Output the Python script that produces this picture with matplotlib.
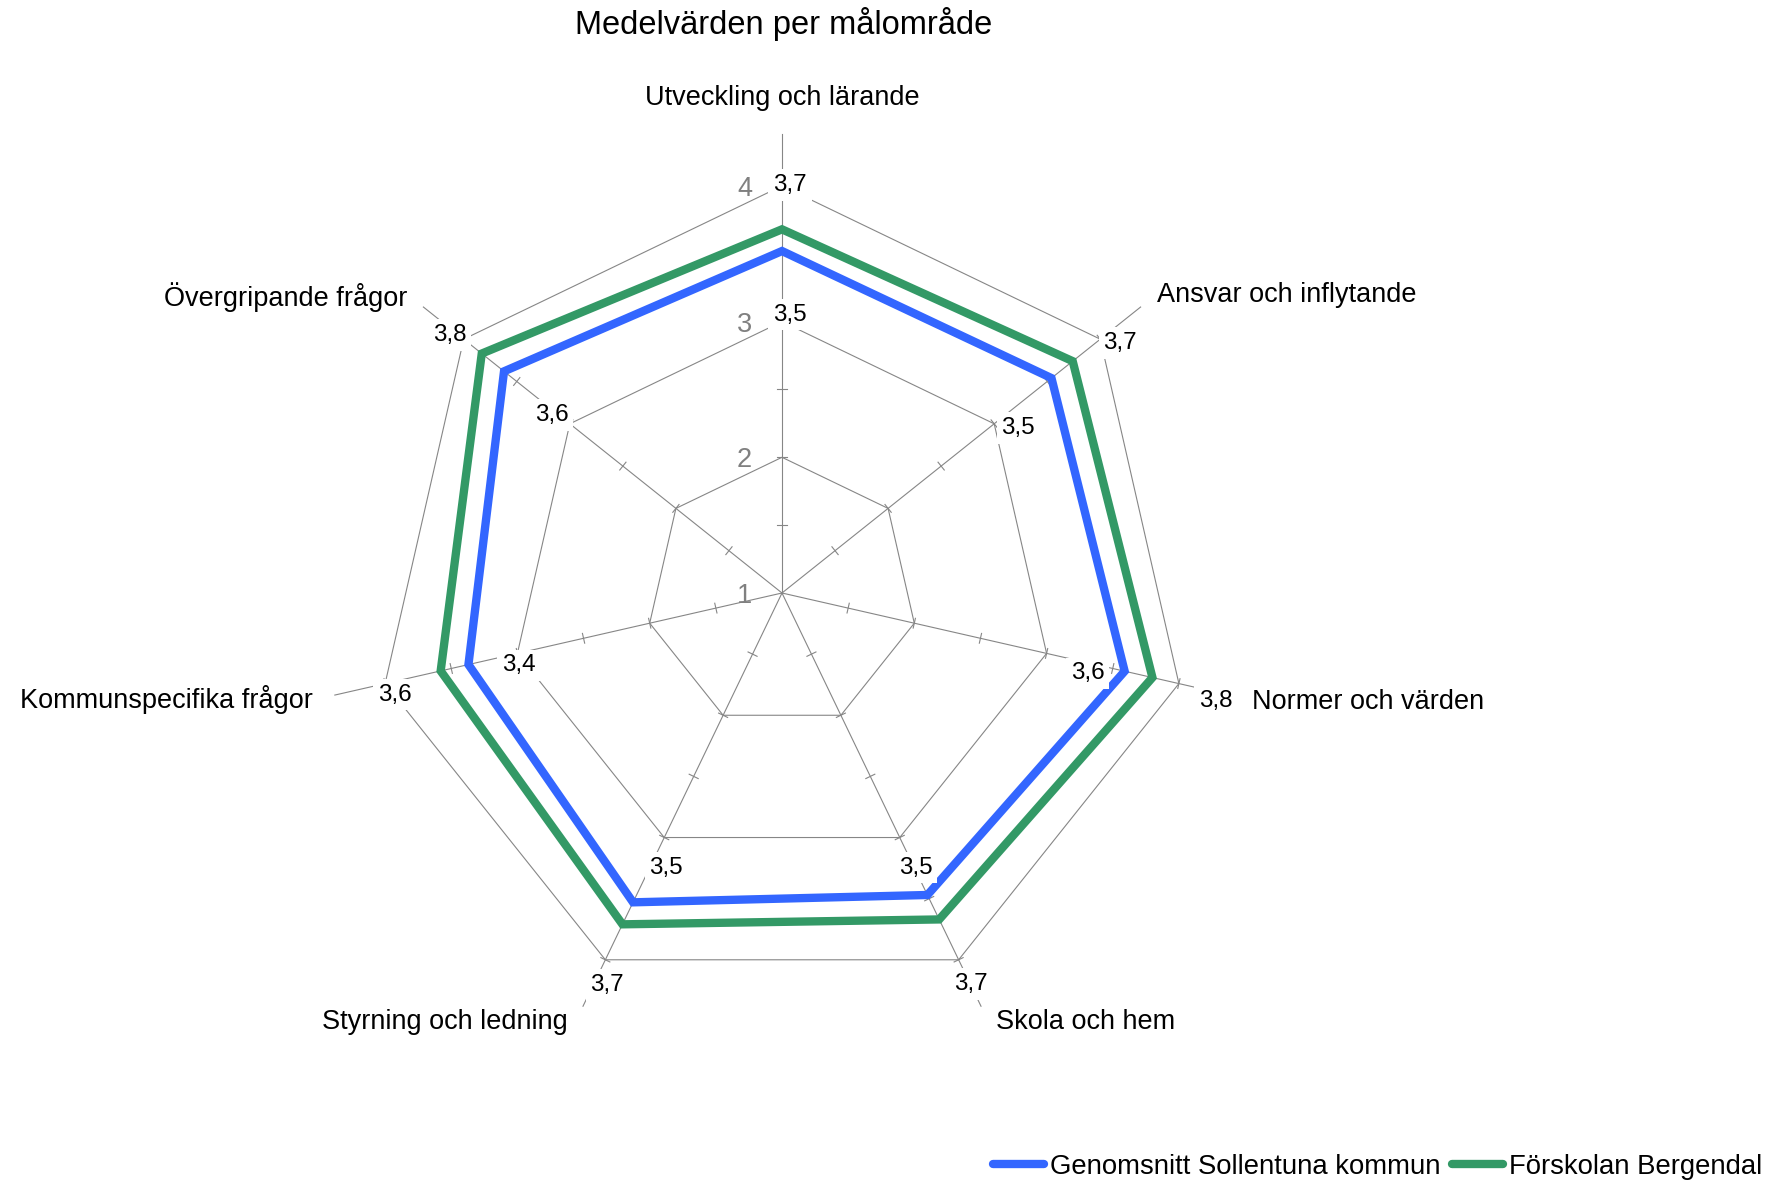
import numpy as np
import matplotlib
matplotlib.use("Agg")
import matplotlib.pyplot as plt
from matplotlib.patches import Polygon
from matplotlib.lines import Line2D

plt.rcParams["font.family"] = ["Liberation Sans", "DejaVu Sans"]

title = "Medelvärden per målområde"
categories = [
    "Utveckling och lärande",
    "Ansvar och inflytande",
    "Normer och värden",
    "Skola och hem",
    "Styrning och ledning",
    "Kommunspecifika frågor",
    "Övergripande frågor",
]
series_names = ["Genomsnitt Sollentuna kommun", "Förskolan Bergendal"]
kommun = [3.52, 3.54, 3.59, 3.47, 3.53, 3.37, 3.62]
bergendal = [3.68, 3.74, 3.80, 3.67, 3.71, 3.58, 3.83]
rings = [1, 2, 3, 4]

# layout (figure pixels, dpi 100)
W, H = 1785, 1181
CX, CY = 782, 593
UNIT = 135.7
GRID = "#868686"
BLUE = "#3366FF"
GREEN = "#339966"

# data label placement: ring used + pixel offsets (x right, y up)
label_ring = {"kommun": 3, "bergendal": 4}
off_kommun = [(8, 7), (24, -4), (41, -20), (16, -30), (2, -30), (1, -12), (-18, 9)]
off_bergendal = [(8, 1), (20, -4), (37, -17), (12, -24), (2, -25), (10, -11), (-14, 4)]
cat_off = [(0, 36), (16, 12), (23, -7), (15, -16), (-15, -16), (-22, -4), (-16, 10)]
cat_ha = ["center", "left", "left", "left", "right", "right", "right"]

n = len(categories)
angles = np.arange(n) * 2 * np.pi / n


def xy(value, i):
    r = value - rings[0]
    return r * np.sin(angles[i]), r * np.cos(angles[i])


def fmt(v):
    return f"{v:.1f}".replace(".", ",")


fig = plt.figure(figsize=(W / 100, H / 100), dpi=100)
ax = fig.add_axes([0, 0, 1, 1])
ax.set_xlim(-CX / UNIT, (W - CX) / UNIT)
ax.set_ylim(-(H - CY) / UNIT, CY / UNIT)
ax.axis("off")

# grid polygons
for ring in rings[1:]:
    pts = [xy(ring, i) for i in range(n)]
    ax.add_patch(Polygon(pts, closed=True, fill=False, ec=GRID, lw=0.8, zorder=1))

# spokes + tick marks
spoke_end = 4.38
tick_half = 5 / UNIT
for i in range(n):
    x1, y1 = xy(spoke_end, i)
    ax.plot([0, x1], [0, y1], color=GRID, lw=0.8, zorder=1)
    px, py = np.cos(angles[i]), -np.sin(angles[i])
    for t in np.arange(1.5, 4.01, 0.5):
        tx, ty = xy(t, i)
        ax.plot([tx - px * tick_half, tx + px * tick_half],
                [ty - py * tick_half, ty + py * tick_half],
                color=GRID, lw=0.8, zorder=1)

# value axis labels
for ring in rings:
    ax.annotate(str(ring), xy(ring, 0), xytext=(-30, -3), textcoords="offset pixels",
                ha="right", va="center", fontsize=19.5, color="#808080")

# series
for vals, color in [(kommun, BLUE), (bergendal, GREEN)]:
    pts = [xy(v, i) for i, v in enumerate(vals)]
    ax.add_patch(Polygon(pts, closed=True, fill=False, ec=color, lw=6,
                         joinstyle="miter", zorder=3))

# data labels
for vals, ring, offs in [(kommun, label_ring["kommun"], off_kommun),
                         (bergendal, label_ring["bergendal"], off_bergendal)]:
    for i, v in enumerate(vals):
        ax.annotate(fmt(v), xy(ring, i), xytext=offs[i], textcoords="offset pixels",
                    ha="center", va="center", fontsize=17.5, color="black", zorder=5,
                    bbox=dict(boxstyle="square,pad=0.2", fc="white", ec="none"))

# category labels
for i, cat in enumerate(categories):
    ax.annotate(cat, xy(spoke_end, i), xytext=cat_off[i], textcoords="offset pixels",
                ha=cat_ha[i], va="center", fontsize=19.5, color="black")

fig.text(784 / W, 1 - 24 / H, title, ha="center", va="center", fontsize=23.5)

handles = [Line2D([], [], color=BLUE, lw=6, solid_capstyle="round"),
           Line2D([], [], color=GREEN, lw=6, solid_capstyle="round")]
fig.legend(handles, series_names, loc="center right", bbox_to_anchor=(1762 / W, 1 - 1167 / H),
           ncol=2, frameon=False, fontsize=19.8, handlelength=1.85, handletextpad=0.2,
           columnspacing=0.45, borderpad=0, borderaxespad=0)

fig.savefig("out.png", dpi=100)
